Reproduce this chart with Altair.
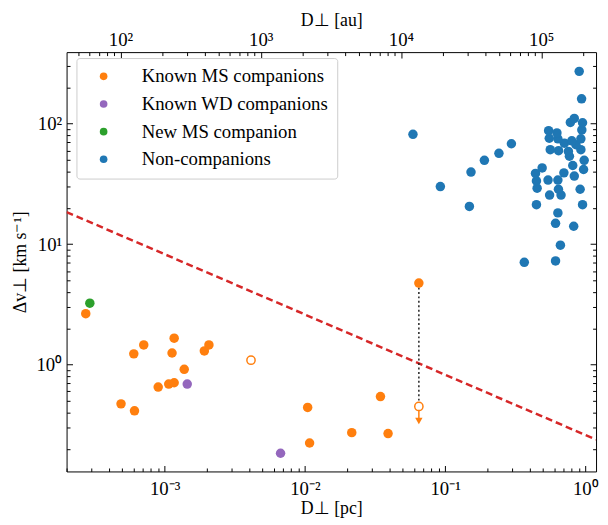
import altair as alt
import pandas as pd

FONT = "Liberation Serif"

# ---------------- data ----------------
non_x = [0.0590, 0.0925, 0.149, 0.153, 0.1906, 0.242, 0.297, 0.367, 0.613, 0.664,
         0.826, 0.613, 0.637, 0.448, 0.955, 0.556, 0.671, 0.643, 0.918, 0.453,
         0.448, 0.542, 0.637, 0.834, 0.703, 0.441, 0.492, 0.813, 0.971, 0.981,
         0.770, 0.562, 0.644, 0.757, 0.929, 0.857, 0.709, 0.800, 0.929, 0.553,
         0.637, 0.547, 0.627, 0.944, 0.782, 0.955, 0.834, 0.940, 0.904]
non_y = [81.7, 30.1, 20.6, 39.7, 49.7, 56.8, 68.2, 7.08, 7.26, 9.81,
         14.1, 14.9, 18.2, 21.3, 21.3, 25.6, 25.6, 28.6, 28.6, 29.2,
         33.5, 34.1, 34.1, 36.8, 39.1, 38.7, 43.0, 45.0, 41.7, 49.7,
         53.7, 60.9, 59.7, 58.9, 60.9, 66.9, 69.0, 72.1, 74.9, 75.8,
         74.9, 87.6, 83.9, 88.8, 102.5, 101.9, 110.6, 161.0, 272.0]

ms_x = [2.74e-4, 6.03e-4, 7.10e-4, 1.17e-3, 1.13e-3, 1.92e-3, 2.07e-3, 1.38e-3,
        9.0e-4, 1.07e-3, 1.17e-3, 4.89e-4, 6.10e-4, 0.01047, 0.01081, 0.0650,
        0.0346, 0.0216, 0.0392]
ms_y = [2.65, 1.23, 1.46, 1.66, 1.25, 1.30, 1.46, 0.915,
        0.652, 0.690, 0.708, 0.473, 0.414, 0.442, 0.224, 4.76,
        0.544, 0.273, 0.268]

wd_x = [1.45e-3, 6.71e-3]
wd_y = [0.690, 0.184]

new_x = [2.93e-4]
new_y = [3.24]

open_x = [4.13e-3, 0.0650]
open_y = [1.09, 0.450]

link_x = [0.0650, 0.0650]
link_y = [4.76, 0.450]

arrow_x = [0.0650, 0.0650]
arrow_y = [0.450, 0.345]
head_x = [0.0650]
head_y = [0.341]

line_x = [2.0e-4, 1.192]
line_y = [18.47, 0.2392]

groups = ["Known MS companions", "Known WD companions", "New MS companion", "Non-companions"]
colors = ["#ff7f0e", "#9467bd", "#2ca02c", "#1f77b4"]

pc_major = [1e-3, 1e-2, 1e-1, 1.0]
pc_minor = [m * 10.0 ** e for e in range(-4, 0) for m in range(2, 10) if m * 10.0 ** e >= 2.0e-4]
au_major = [1e2, 1e3, 1e4, 1e5]
au_minor = [m * 10.0 ** e for e in range(1, 6) for m in range(2, 10) if 41.3 <= m * 10.0 ** e <= 245000]
v_major = [1.0, 10.0, 100.0]
v_minor = [m * 10.0 ** e for e in range(-1, 3) for m in range(2, 10) if 0.13 <= m * 10.0 ** e <= 393]

pc_dom = [2.0e-4, 1.192]
au_dom = [2.0e-4 * 206265, 1.192 * 206265]
v_dom = [0.130, 393.0]

# ---------------- tables ----------------
pts = pd.DataFrame({
    "D": non_x + ms_x + wd_x + new_x,
    "v": non_y + ms_y + wd_y + new_y,
    "group": [groups[3]] * len(non_x) + [groups[0]] * len(ms_x) + [groups[1]] * len(wd_x) + [groups[2]] * len(new_x),
})
open_df = pd.DataFrame({"D": open_x, "v": open_y})
link_df = pd.DataFrame({"D": link_x, "v": link_y})
arrow_df = pd.DataFrame({"D": arrow_x, "v": arrow_y})
head_df = pd.DataFrame({"D": head_x, "v": head_y})
line_df = pd.DataFrame({"D": line_x, "v": line_y})
hid_df = pd.DataFrame({"D": non_x, "v": non_y})

SUP = {-3: "10⁻³", -2: "10⁻²", -1: "10⁻¹", 0: "10⁰", 1: "10¹", 2: "10²", 3: "10³", 4: "10⁴", 5: "10⁵"}


def sup_expr():
    e = "round(log(datum.value)/LN10)"
    expr = "''"
    for k, s in SUP.items():
        expr = f"{e} == {k} ? '{s}' : ({expr})"
    return expr


def xs(dom):
    return alt.Scale(type="log", domain=dom, nice=False)


def tick_axis(orient, values, size):
    return alt.Axis(orient=orient, values=values, labels=False, ticks=True, tickSize=size,
                    offset=-size, domain=False, grid=False, title=None, tickColor="black",
                    tickWidth=1)


label_common = dict(labelFont=FONT, labelFontSize=19, labelColor="black", labelFlush=False,
                    labelOverlap=False, ticks=False, domain=False, grid=False,
                    labelExpr=sup_expr(), titleFont=FONT, titleFontSize=18,
                    titleFontWeight="normal", titleColor="black")

# ---------------- data layers ----------------
x_main = alt.X("D:Q", scale=xs(pc_dom),
               axis=alt.Axis(orient="bottom", values=pc_major, labelPadding=8,
                             title="D⊥ [pc]", titlePadding=2, **label_common))
y_main = alt.Y("v:Q", scale=xs(v_dom),
               axis=alt.Axis(orient="left", values=v_major, labelPadding=5,
                             title="Δv⊥ [km s⁻¹]", titlePadding=7, **label_common))

x_n = alt.X("D:Q", scale=xs(pc_dom), axis=None)
y_n = alt.Y("v:Q", scale=xs(v_dom), axis=None)

redline = alt.Chart(line_df).mark_line(color="#d62728", strokeWidth=2.5, strokeDash=[7, 4], clip=True).encode(
    x=x_n, y=y_n)
link = alt.Chart(link_df).mark_line(color="#222222", strokeWidth=1.5, strokeDash=[2, 2.5]).encode(x=x_n, y=y_n)
arrow = alt.Chart(arrow_df).mark_line(color="#ff7f0e", strokeWidth=1.5).encode(x=x_n, y=y_n)
head = alt.Chart(head_df).mark_point(shape="triangle-down", filled=True, color="#ff7f0e", size=55, opacity=1).encode(
    x=x_n, y=y_n)

points = alt.Chart(pts).mark_circle(size=92, opacity=1).encode(
    x=x_main, y=y_main,
    color=alt.Color("group:N", scale=alt.Scale(domain=groups, range=colors), sort=groups,
                    legend=alt.Legend(orient="none", legendX=10, legendY=6, title=None,
                                      labelFont=FONT, labelFontSize=19, labelColor="black",
                                      symbolType="circle", symbolSize=60, symbolStrokeWidth=0,
                                      fillColor="white", strokeColor="#cccccc", cornerRadius=3,
                                      padding=9, rowPadding=8, symbolOffset=9, labelOffset=29,
                                      labelLimit=400)),
    order=alt.Order("ord:Q"),
).transform_calculate(ord="datum.group == 'Non-companions' ? 0 : 1")

opens = alt.Chart(open_df).mark_point(shape="circle", filled=True, fill="white", stroke="#ff7f0e",
                                      strokeWidth=1.5, size=70, opacity=1).encode(x=x_n, y=y_n)

# ---------------- axis-tick layers ----------------
hid = alt.Chart(hid_df).mark_circle(opacity=0)

t1 = hid.encode(x=alt.X("D:Q", scale=xs(pc_dom), axis=tick_axis("bottom", pc_major, 6)),
                y=alt.Y("v:Q", scale=xs(v_dom), axis=tick_axis("left", v_major, 6)))
t2 = hid.encode(x=alt.X("D:Q", scale=xs(pc_dom), axis=tick_axis("bottom", pc_minor, 3.5)),
                y=alt.Y("v:Q", scale=xs(v_dom), axis=tick_axis("left", v_minor, 3.5)))
t3 = hid.transform_calculate(au="datum.D * 206265").encode(
    x=alt.X("au:Q", scale=xs(au_dom),
            axis=alt.Axis(orient="top", values=au_major, labelPadding=3, title="D⊥ [au]",
                          titlePadding=1, **label_common)),
    y=alt.Y("v:Q", scale=xs(v_dom), axis=tick_axis("right", v_major, 6)))
t4 = hid.transform_calculate(au="datum.D * 206265").encode(
    x=alt.X("au:Q", scale=xs(au_dom), axis=tick_axis("top", au_major, 6)),
    y=alt.Y("v:Q", scale=xs(v_dom), axis=tick_axis("right", v_minor, 3.5)))
t5 = hid.transform_calculate(au="datum.D * 206265").encode(
    x=alt.X("au:Q", scale=xs(au_dom), axis=tick_axis("top", au_minor, 3.5)),
    y=alt.Y("v:Q", scale=xs(v_dom), axis=None))

chart = alt.layer(
    redline, link, arrow, head, points, opens, t1, t2, t3, t4, t5
).resolve_scale(x="independent", y="independent").properties(
    width=536, height=424.5,
    autosize=alt.AutoSizeParams(type="none"),
    padding={"left": 59.3, "top": 41.5, "right": 4, "bottom": 47},
    background="white",
).configure_view(stroke="black", strokeWidth=1)

chart.save("out.html", embed_options={"renderer": "svg", "actions": False})
